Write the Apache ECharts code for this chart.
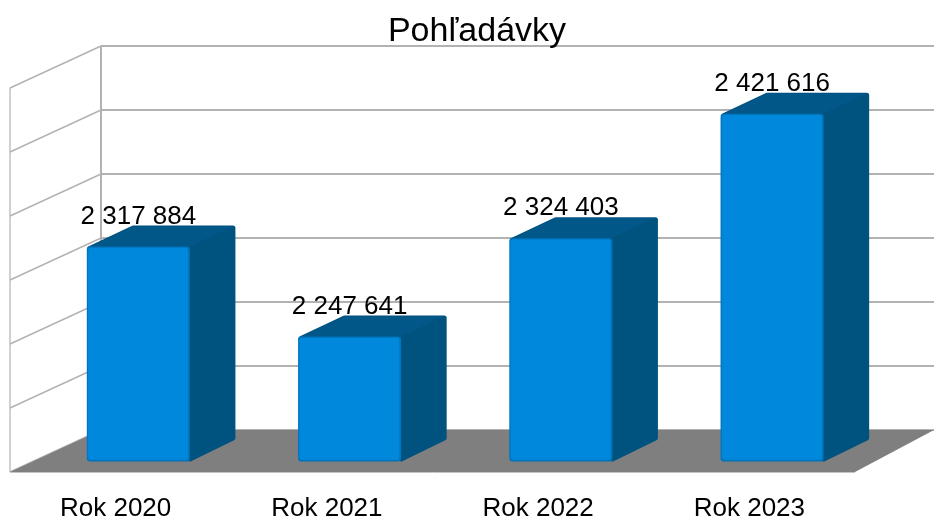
<!DOCTYPE html>
<html>
<head>
<meta charset="utf-8">
<title>Pohľadávky</title>
<style>
html, body { margin: 0; padding: 0; background: #fff; }
#chart { width: 934px; height: 517px; }
</style>
<script src="https://cdn.jsdelivr.net/npm/echarts@6/dist/echarts.min.js"></script>
</head>
<body>
<div id="chart"></div>
<script>
var titleText = 'Pohľadávky';
var categories = ['Rok 2020', 'Rok 2021', 'Rok 2022', 'Rok 2023'];
var values = [2317884, 2247641, 2324403, 2421616];
var valueLabels = ['2 317 884', '2 247 641', '2 324 403', '2 421 616'];
var gridValues = [2150000, 2200000, 2250000, 2300000, 2350000, 2400000, 2450000];

var fontName = '"Liberation Sans", Arial, sans-serif';
var depthX = 91, depthY = 42;   // wall depth on screen
var floorRightX = 79;           // right edge of the floor is cut shorter
var barRatio = 0.488;
var gridColor = '#b2b2b2';

// move a front plane point back by d (0 = front, 1 = back wall)
function back(p, d) {
	return [p[0] + depthX * d, p[1] - depthY * d];
}

function renderWall(params, api) {
	var size = api.size([1, 0])[0];
	var n = categories.length;
	var left = api.coord([0, api.value(0)]);
	left = [left[0] - size / 2, left[1]];
	var rightX = left[0] + size * n;
	var b = back(left, 1);
	var items = [{
		type: 'line',
		shape: { x1: left[0], y1: left[1], x2: b[0], y2: b[1] },
		style: { stroke: gridColor, lineWidth: 1.4 }
	}, {
		type: 'line',
		shape: { x1: b[0], y1: b[1], x2: rightX + floorRightX, y2: b[1] },
		style: { stroke: gridColor, lineWidth: 2 }
	}];
	if (params.dataIndex === 0) {
		var top = api.coord([0, gridValues[gridValues.length - 1]]);
		top = [left[0], top[1]];
		items.push({
			type: 'line',
			shape: { x1: left[0], y1: left[1], x2: top[0], y2: top[1] },
			style: { stroke: gridColor, lineWidth: 1.2 }
		});
		items.push({
			type: 'line',
			shape: { x1: b[0], y1: b[1], x2: b[0], y2: back(top, 1)[1] },
			style: { stroke: gridColor, lineWidth: 2 }
		});
		items.push({
			type: 'polygon',
			shape: { points: [left, [rightX, left[1]], [rightX + floorRightX, b[1]], b] },
			style: { fill: '#7f7f7f' }
		});
		items.push({
			type: 'line',
			shape: { x1: left[0], y1: left[1] + 0.5, x2: rightX, y2: left[1] + 0.5 },
			style: { stroke: '#c4c4c4', lineWidth: 1 }
		});
	}
	return { type: 'group', children: items };
}

function renderBar(params, api) {
	var i = api.value(0);
	var size = api.size([1, 0])[0] * barRatio;
	var topC = api.coord([i, api.value(1)]);
	var baseC = api.coord([i, gridValues[0]]);
	var fl = back([topC[0] - size / 2, topC[1]], 0.25);
	var fr = back([topC[0] + size / 2, topC[1]], 0.25);
	var br = back([baseC[0] + size / 2, baseC[1]], 0.25);
	var tl = back(fl, 0.5);
	var tr = back(fr, 0.5);
	var bb = back(br, 0.5);
	return {
		type: 'group',
		children: [{
			type: 'polygon',
			shape: { points: [[fl[0] + 3, fl[1] + 2], [tl[0] + 1, tl[1] + 2.5], [tr[0] - 2.5, tr[1] + 2.5], [bb[0] - 2.5, bb[1] - 2.5], [br[0], br[1] - 2.5]] },
			style: { fill: '#00527f', stroke: '#00527f', lineWidth: 5, lineJoin: 'round' }
		}, {
			type: 'polygon',
			shape: { points: [[fl[0] + 3, fl[1]], [tl[0] + 1, tl[1] + 1], [tr[0] - 3, tr[1] + 1], [fr[0], fr[1]]] },
			style: { fill: '#005788' }
		}, {
			type: 'rect',
			shape: { x: fl[0], y: fl[1], width: size, height: br[1] - fr[1], r: 3 },
			style: { fill: '#0273b8' }
		}, {
			type: 'rect',
			shape: { x: fl[0] + 1.5, y: fl[1] + 1.5, width: size - 3.5, height: br[1] - fr[1] - 3.5, r: 2 },
			style: { fill: '#0088dc', shadowBlur: 2, shadowColor: '#0088dc' }
		}, {
			type: 'text',
			style: {
				x: (fl[0] + fr[0]) / 2,
				y: fl[1] - 17,
				text: valueLabels[i],
				fill: '#000',
				font: '26px ' + fontName,
				align: 'center',
				verticalAlign: 'bottom'
			}
		}]
	};
}

var chart = echarts.init(document.getElementById('chart'));
chart.setOption({
	animation: false,
	backgroundColor: '#fff',
	title: {
		text: titleText,
		left: 472,
		top: 10,
		textAlign: 'center',
		textStyle: { fontFamily: fontName, fontSize: 34, fontWeight: 'normal', color: '#000' }
	},
	grid: { left: 10, right: 79, top: 88, bottom: 45, outerBoundsMode: 'none' },
	xAxis: {
		type: 'category',
		data: categories,
		axisLine: { show: false },
		axisTick: { show: false },
		axisLabel: { fontFamily: fontName, fontSize: 26, color: '#000', margin: 24, interval: 0 }
	},
	yAxis: {
		type: 'value',
		min: gridValues[0],
		max: gridValues[gridValues.length - 1],
		interval: gridValues[1] - gridValues[0],
		axisLine: { show: false },
		axisTick: { show: false },
		axisLabel: { show: false },
		splitLine: { show: false }
	},
	series: [{
		type: 'custom',
		silent: true,
		z: 1,
		renderItem: renderWall,
		data: gridValues.map(function(v) { return [v]; }),
		encode: { y: 0 }
	}, {
		type: 'custom',
		silent: true,
		z: 2,
		renderItem: renderBar,
		data: values.map(function(v, i) { return [i, v]; }),
		encode: { x: 0, y: 1 }
	}]
});
</script>
</body>
</html>
